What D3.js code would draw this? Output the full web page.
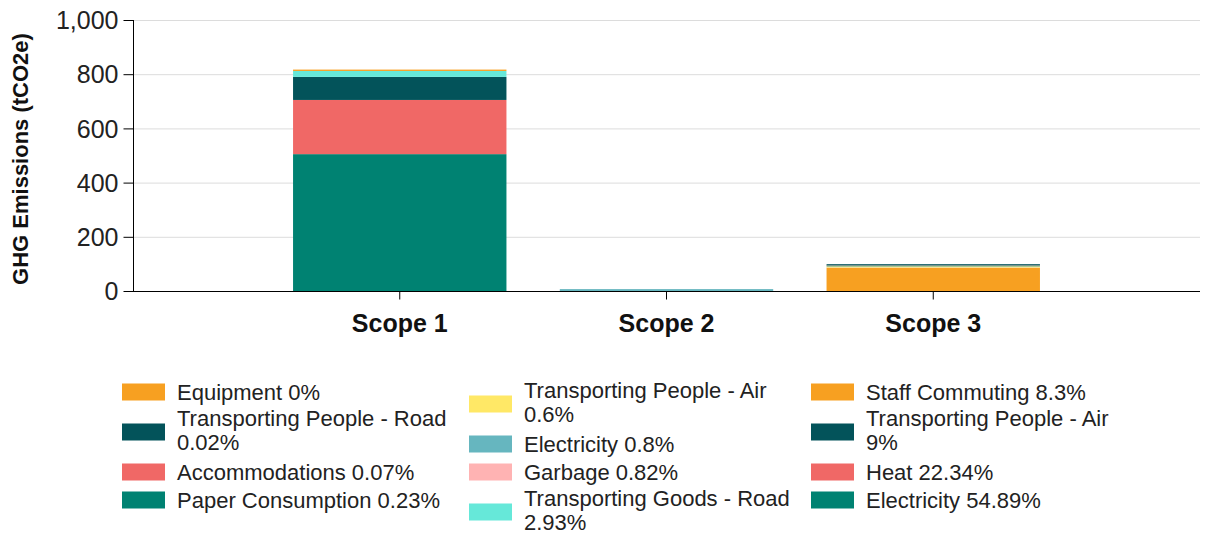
<!DOCTYPE html>
<html><head><meta charset="utf-8">
<script src="https://cdn.jsdelivr.net/npm/d3@7"></script>
<style>body{margin:0;background:#fff}svg{display:block}text{font-family:"Liberation Sans",Arial,sans-serif}</style>
</head><body><svg id="c" width="1209" height="534"></svg>
<script>
const scopes = ["Scope 1", "Scope 2", "Scope 3"];
const yTicks = [0, 200, 400, 600, 800, 1000];
// stacking order bottom -> top
const seriesNames = ["Electricity", "Heat", "Transporting People - Air", "Transporting Goods - Road", "Staff Commuting", "Garbage", "Electricity", "Transporting People - Air", "Paper Consumption", "Accommodations", "Transporting People - Road", "Equipment"];
const seriesPct = ["54.89%", "22.34%", "9%", "2.93%", "8.3%", "0.82%", "0.8%", "0.6%", "0.23%", "0.07%", "0.02%", "0%"];
const seriesColors = ["#008272", "#f06866", "#03535a", "#66e8d9", "#f7a021", "#ffb3b3", "#66b6bf", "#ffe866", "#008272", "#f06866", "#03535a", "#f7a021"];
// values per scope [Scope 1, Scope 2, Scope 3] (tCO2e)
const seriesValues = [
  [505, 0, 0],
  [200, 0, 0],
  [85, 0, 0],
  [22, 0, 0],
  [5, 0, 86],
  [0, 0, 1],
  [0, 7, 0],
  [0, 0, 4],
  [0, 0, 3],
  [0, 0, 1],
  [0, 0, 4],
  [0, 0, 0]
];
// legend order (column-major), indices into series arrays
const legendOrder = [11, 10, 9, 8, 7, 6, 5, 3, 4, 2, 1, 0];

const svg = d3.select("#c");
const x0 = 133, x1 = 1200, yTop = 20, yBot = 291;
const x = d3.scaleBand().domain(scopes).range([x0, x1]).paddingInner(0.2).paddingOuter(0.6);
const y = d3.scaleLinear().domain([0, 1000]).range([yBot, yTop]);

// grid
svg.append("g").selectAll("line").data(yTicks.filter(d => d > 0)).join("line")
  .attr("x1", x0).attr("x2", x1).attr("y1", d => y(d) + 0.5).attr("y2", d => y(d) + 0.5)
  .attr("stroke", "#dcdcdc").attr("stroke-width", 1);

// stacked bars
const rows = scopes.map((s, j) => { const o = {scope: s}; seriesValues.forEach((v, i) => o["s" + i] = v[j]); return o; });
const stack = d3.stack().keys(seriesNames.map((_, i) => "s" + i))(rows);
svg.append("g").selectAll("g").data(stack).join("g")
  .attr("fill", (d, i) => seriesColors[i])
  .selectAll("rect").data(d => d).join("rect")
  .attr("x", d => x(d.data.scope)).attr("width", x.bandwidth())
  .attr("y", d => y(d[1])).attr("height", d => y(d[0]) - y(d[1]));

// y axis
const ya = svg.append("g").attr("transform", `translate(${x0 + 0.5},0)`)
  .call(d3.axisLeft(y).tickValues(yTicks).tickSize(10).tickPadding(5).tickFormat(d3.format(",")));
ya.select(".domain").attr("stroke", "#000").attr("d", `M-0,${yTop}V${yBot}`);
ya.selectAll(".tick line").attr("stroke", "#000");
ya.selectAll("text").attr("font-size", 25).attr("fill", "#222").attr("dy", "0.35em");

// x axis
const xa = svg.append("g").attr("transform", `translate(0,${yBot + 0.5})`)
  .call(d3.axisBottom(x).tickSize(8).tickPadding(15));
xa.select(".domain").attr("stroke", "#000").attr("d", `M${x0},0H${x1}`);
xa.selectAll(".tick line").attr("stroke", "#000");
xa.selectAll("text").attr("font-size", 25).attr("font-weight", "bold").attr("fill", "#111");

// y title
svg.append("text").attr("transform", "translate(28,159) rotate(-90)")
  .attr("text-anchor", "middle").attr("font-size", 22).attr("font-weight", "bold").attr("fill", "#111")
  .text("GHG Emissions (tCO2e)");

// legend
const colX = [122, 469, 811];
const lg = svg.append("g");
const maxW = 270;
function wrapLines(str) {
  const t = lg.append("text").attr("font-size", 22);
  const words = str.split(" "); const lines = []; let cur = "";
  words.forEach(w => {
    const test = cur ? cur + " " + w : w;
    t.text(test);
    if (t.node().getComputedTextLength() > maxW && cur) { lines.push(cur); cur = w; } else cur = test;
  });
  lines.push(cur); t.remove(); return lines;
}
for (let c = 0; c < 3; c++) {
  let top = 378;
  for (let r = 0; r < 4; r++) {
    const idx = legendOrder[c * 4 + r];
    const lines = wrapLines(seriesNames[idx] + " " + seriesPct[idx]);
    const h = lines.length > 1 ? 52 : 28;
    const cy = top + h / 2;
    lg.append("rect").attr("x", colX[c]).attr("y", cy - 8.5).attr("width", 43).attr("height", 17).attr("fill", seriesColors[idx]);
    const t = lg.append("text").attr("font-size", 22).attr("fill", "#222");
    lines.forEach((ln, k) => {
      const base = lines.length > 1 ? cy - 6 + k * 24 : cy + 8;
      t.append("tspan").attr("x", colX[c] + 55).attr("y", base).text(ln);
    });
    top += h;
  }
}
</script></body></html>
